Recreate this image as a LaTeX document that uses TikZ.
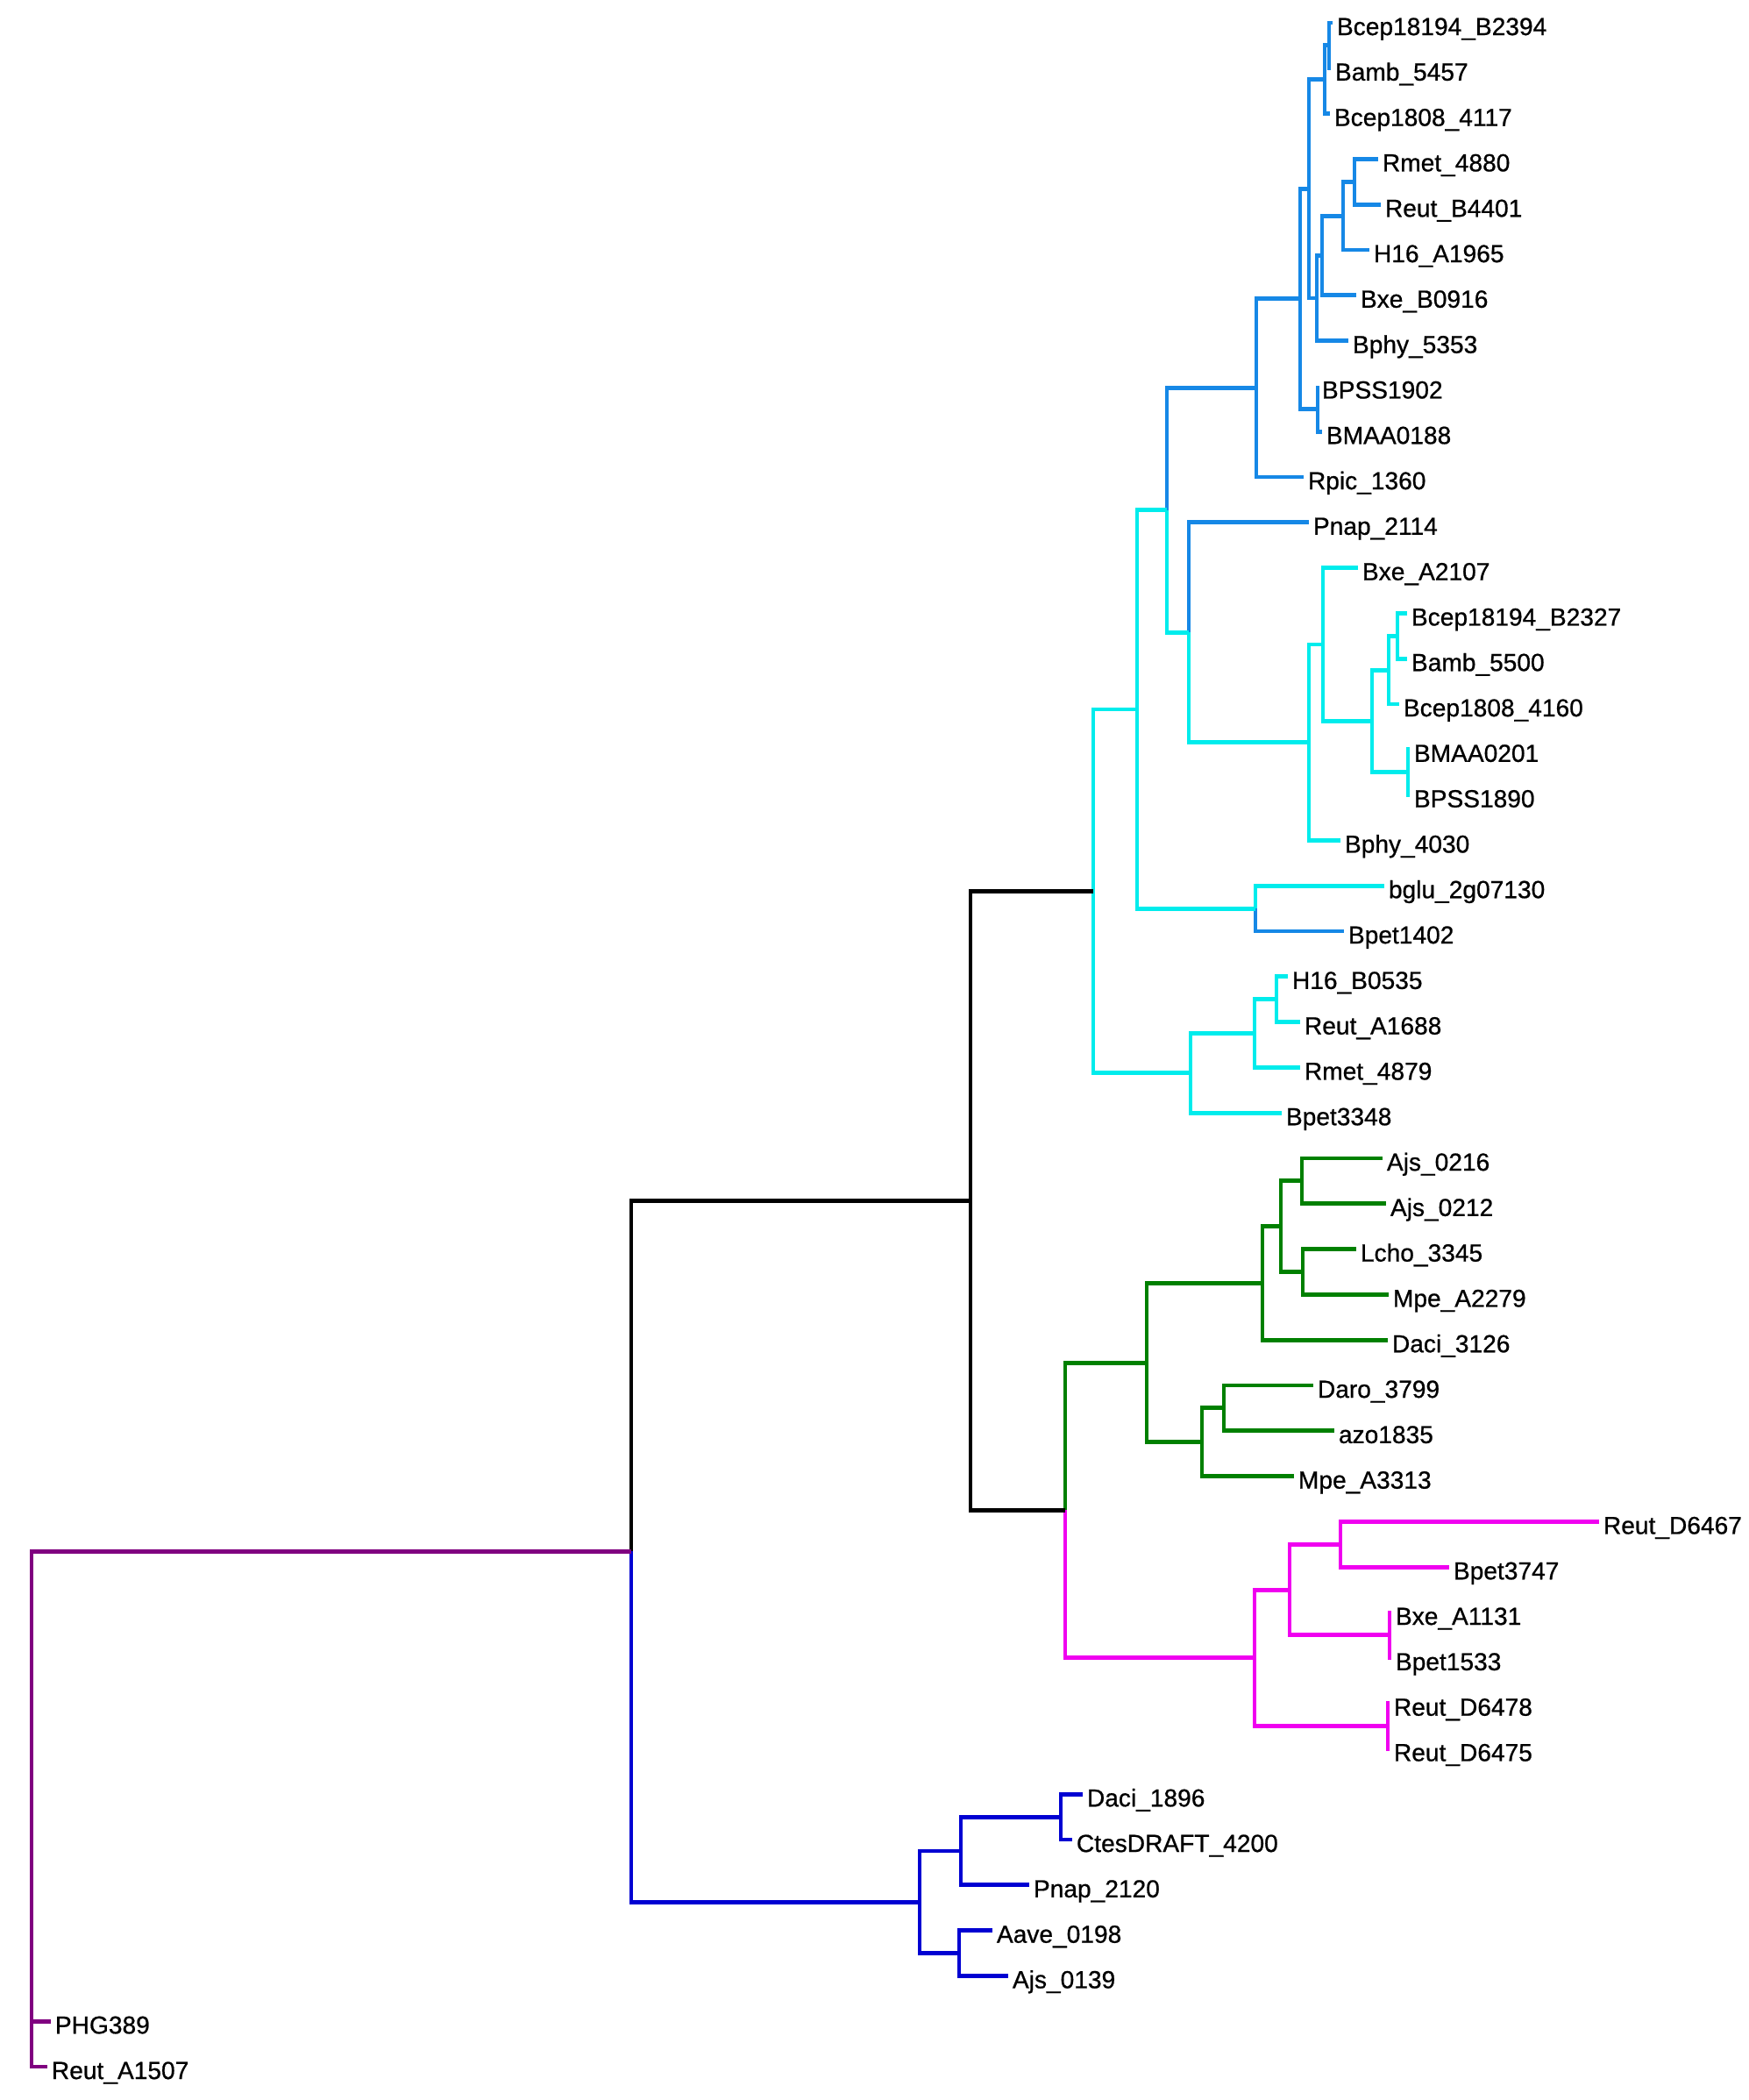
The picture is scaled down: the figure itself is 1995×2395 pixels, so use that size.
\documentclass[tikz,border=0pt]{standalone}
\usepackage{fontspec}
\setmainfont{Liberation Sans}[FakeBold=0.7]
\usetikzlibrary{calc}
\definecolor{burk}{RGB}{22,136,230}
\definecolor{aqua}{RGB}{0,236,236}
\definecolor{grn}{RGB}{0,128,0}
\definecolor{mag}{RGB}{240,0,240}
\definecolor{blu}{RGB}{0,0,210}
\definecolor{pur}{RGB}{128,0,128}
% inner vertex of the tree: x given, y halfway between two children
\newcommand{\joint}[4]{\path let \p1=($(#3)!0.5!(#4)$) in coordinate (#1) at (#2,\y1);}
\begin{document}
\begin{tikzpicture}[x=0.01cm,y=-0.01cm,
    br/.style={line width=1.4pt},
    leaf/.style={anchor=west,inner xsep=1.2pt,inner ysep=0pt,text height=0.8em,text depth=0pt,
                 font=\fontsize{8pt}{9.6pt}\selectfont}]
  \useasboundingbox (0,0) rectangle (1995,2395);

  \foreach \n/\x/\t [count=\i from 0] in {
      B2394/1520/Bcep18194\_B2394, Bamb5457/1518/Bamb\_5457, Bcep4117/1517/Bcep1808\_4117,
      Rmet4880/1572/Rmet\_4880, ReutB4401/1575/Reut\_B4401, H16A1965/1562/H16\_A1965,
      BxeB0916/1547/Bxe\_B0916, Bphy5353/1538/Bphy\_5353, BPSS1902/1503/BPSS1902,
      BMAA0188/1508/BMAA0188, Rpic1360/1487/Rpic\_1360, Pnap2114/1493/Pnap\_2114,
      BxeA2107/1549/Bxe\_A2107, B2327/1605/Bcep18194\_B2327, Bamb5500/1605/Bamb\_5500,
      Bcep4160/1596/Bcep1808\_4160, BMAA0201/1608/BMAA0201, BPSS1890/1608/BPSS1890,
      Bphy4030/1529/Bphy\_4030, bglu/1579/bglu\_2g07130, Bpet1402/1533/Bpet1402,
      H16B0535/1469/H16\_B0535, ReutA1688/1483/Reut\_A1688, Rmet4879/1483/Rmet\_4879,
      Bpet3348/1462/Bpet3348, Ajs0216/1577/Ajs\_0216, Ajs0212/1581/Ajs\_0212,
      Lcho3345/1547/Lcho\_3345, MpeA2279/1584/Mpe\_A2279, Daci3126/1583/Daci\_3126,
      Daro3799/1498/Daro\_3799, azo1835/1522/azo1835, MpeA3313/1476/Mpe\_A3313,
      ReutD6467/1824/Reut\_D6467, Bpet3747/1653/Bpet3747, BxeA1131/1587/Bxe\_A1131,
      Bpet1533/1587/Bpet1533, ReutD6478/1585/Reut\_D6478, ReutD6475/1585/Reut\_D6475,
      Daci1896/1235/Daci\_1896, Ctes4200/1223/CtesDRAFT\_4200, Pnap2120/1174/Pnap\_2120,
      Aave0198/1132/Aave\_0198, Ajs0139/1150/Ajs\_0139, PHG389/58/PHG389,
      ReutA1507/54/Reut\_A1507}
    \node[leaf] (\n) at (\x,26+51.8*\i) {\t};

  \joint{a1}{1516}{B2394}{Bamb5457}
  \joint{a2}{1511}{a1}{Bcep4117}
  \joint{a3}{1545}{Rmet4880}{ReutB4401}
  \joint{a4}{1532}{a3}{H16A1965}
  \joint{a5}{1508}{a4}{BxeB0916}
  \joint{a6}{1502}{a5}{Bphy5353}
  \joint{a7}{1493}{a2}{a6}
  \joint{a8}{1503}{BPSS1902}{BMAA0188}
  \joint{a9}{1483}{a7}{a8}
  \joint{a10}{1433}{a9}{Rpic1360}
  \joint{b1}{1594}{B2327}{Bamb5500}
  \joint{b2}{1584}{b1}{Bcep4160}
  \joint{b3}{1606}{BMAA0201}{BPSS1890}
  \joint{b4}{1565}{b2}{b3}
  \joint{b5}{1509}{BxeA2107}{b4}
  \joint{b6}{1493}{b5}{Bphy4030}
  \joint{b7}{1356}{Pnap2114}{b6}
  \joint{b8}{1331}{a10}{b7}
  \joint{c1}{1432}{bglu}{Bpet1402}
  \joint{b9}{1297}{b8}{c1}
  \joint{d1}{1456}{H16B0535}{ReutA1688}
  \joint{d2}{1431}{d1}{Rmet4879}
  \joint{d3}{1358}{d2}{Bpet3348}
  \joint{b10}{1247}{b9}{d3}
  \joint{g1}{1485}{Ajs0216}{Ajs0212}
  \joint{g2}{1486}{Lcho3345}{MpeA2279}
  \joint{g3}{1461}{g1}{g2}
  \joint{g4}{1440}{g3}{Daci3126}
  \joint{g5}{1396}{Daro3799}{azo1835}
  \joint{g6}{1371}{g5}{MpeA3313}
  \joint{g7}{1308}{g4}{g6}
  \joint{m1}{1529}{ReutD6467}{Bpet3747}
  \joint{m2}{1585}{BxeA1131}{Bpet1533}
  \joint{m3}{1471}{m1}{m2}
  \joint{m4}{1583}{ReutD6478}{ReutD6475}
  \joint{m5}{1431}{m3}{m4}
  \joint{f0}{1215}{g7}{m5}
  \joint{e0}{1107}{b10}{f0}
  \joint{h1}{1210}{Daci1896}{Ctes4200}
  \joint{h2}{1096}{h1}{Pnap2120}
  \joint{h3}{1094}{Aave0198}{Ajs0139}
  \joint{h0}{1049}{h2}{h3}
  \joint{t0}{720}{e0}{h0}
  \joint{r0}{36}{t0}{ReutA1507}

  \foreach \p/\c in {a1/B2394, a1/Bamb5457, a2/a1, a2/Bcep4117, a3/Rmet4880, a3/ReutB4401,
      a4/a3, a4/H16A1965, a5/a4, a5/BxeB0916, a6/a5, a6/Bphy5353, a7/a2, a7/a6,
      a8/BPSS1902, a8/BMAA0188, a9/a7, a9/a8, a10/a9, a10/Rpic1360, b8/a10,
      b7/Pnap2114, c1/Bpet1402}
    \draw[br,burk] (\p) |- (\c);
  \foreach \p/\c in {b1/B2327, b1/Bamb5500, b2/b1, b2/Bcep4160, b3/BMAA0201, b3/BPSS1890,
      b4/b2, b4/b3, b5/BxeA2107, b5/b4, b6/b5, b6/Bphy4030, b7/b6, b8/b7, b9/b8, b9/c1,
      c1/bglu, d1/H16B0535, d1/ReutA1688, d2/d1, d2/Rmet4879, d3/d2, d3/Bpet3348,
      b10/b9, b10/d3}
    \draw[br,aqua] (\p) |- (\c);
  \foreach \p/\c in {g1/Ajs0216, g1/Ajs0212, g2/Lcho3345, g2/MpeA2279, g3/g1, g3/g2,
      g4/g3, g4/Daci3126, g5/Daro3799, g5/azo1835, g6/g5, g6/MpeA3313, g7/g4, g7/g6, f0/g7}
    \draw[br,grn] (\p) |- (\c);
  \foreach \p/\c in {m1/ReutD6467, m1/Bpet3747, m2/BxeA1131, m2/Bpet1533, m3/m1, m3/m2,
      m4/ReutD6478, m4/ReutD6475, m5/m3, m5/m4, f0/m5}
    \draw[br,mag] (\p) |- (\c);
  \foreach \p/\c in {h1/Daci1896, h1/Ctes4200, h2/h1, h2/Pnap2120, h3/Aave0198, h3/Ajs0139,
      h0/h2, h0/h3, t0/h0}
    \draw[br,blu] (\p) |- (\c);
  \foreach \p/\c in {e0/b10, e0/f0, t0/e0}
    \draw[br] (\p) |- (\c);
  \foreach \c in {t0, PHG389, ReutA1507}
    \draw[br,pur] (r0) |- (\c);
\end{tikzpicture}
\end{document}
